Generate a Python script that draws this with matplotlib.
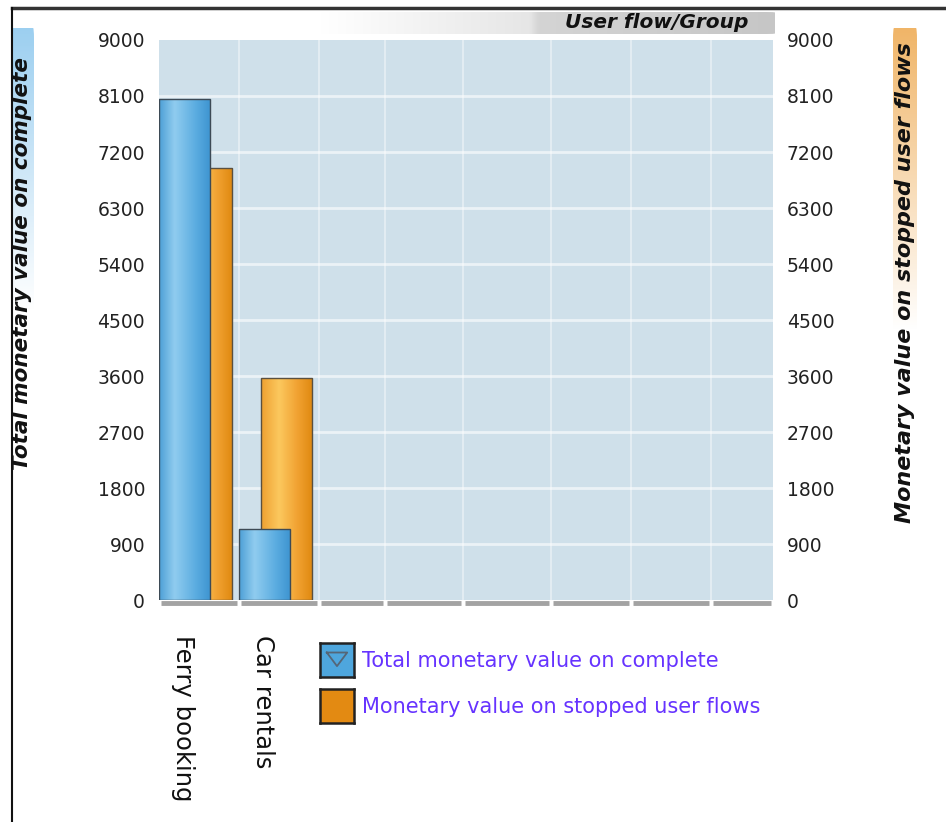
import numpy as np
import matplotlib
matplotlib.use("Agg")
import matplotlib.pyplot as plt
from matplotlib.colors import LinearSegmentedColormap
from matplotlib.patches import FancyBboxPatch
from matplotlib.lines import Line2D

categories = ["Ferry booking", "Car rentals"]
complete_values = [8050, 1140]
stopped_values = [6940, 3570]
y_ticks = [0, 900, 1800, 2700, 3600, 4500, 5400, 6300, 7200, 8100, 9000]
title = "User flow/Group"
left_label = "Total monetary value on complete"
right_label = "Monetary value on stopped user flows"
legend_labels = ["Total monetary value on complete", "Monetary value on stopped user flows"]

W, H = 946, 822
fig = plt.figure(figsize=(W / 100, H / 100), dpi=100)
fig.patch.set_facecolor("white")

def fx(px):
    return px / W

def fy(py):
    return 1 - py / H

def pill(box, color, rounding):
    # vertical gradient strip with rounded ends
    pax = fig.add_axes(box)
    pax.set_axis_off()
    cm = LinearSegmentedColormap.from_list("p", [(0, "#ffffff"), (1, color)])
    im = pax.imshow(np.linspace(1, 0, 256).reshape(-1, 1), extent=[0, 1, 0, 1],
                    aspect="auto", cmap=cm)
    pp = FancyBboxPatch((0, 0), 1, 1, boxstyle="round,pad=0,rounding_size=%g" % rounding,
                        transform=pax.transData, facecolor="none", edgecolor="none")
    pax.add_patch(pp)
    im.set_clip_path(pp)
    pax.set_xlim(0, 1)
    pax.set_ylim(0, 1)

# main axes: pixel box 159..773 x 40..600
ax = fig.add_axes([fx(159), fy(600), fx(614), (600 - 40) / H])
ax.set_facecolor("#cfe0ea")
xmax = 614 / 80
ax.set_xlim(0, xmax)
ax.set_ylim(0, 9000)
for s in ax.spines.values():
    s.set_visible(False)

# grid
for t in y_ticks[1:-1]:
    ax.axhline(t, color="white", lw=2, alpha=0.6, zorder=1)
grid_x = [1, 2, 2.825, 3.8, 4.9, 5.9, 6.9]
for g in grid_x:
    ax.axvline(g, color="white", lw=1.5, alpha=0.4, zorder=1)

# baseline segments
seg_edges = [0, 1, 2, 2.825, 3.8, 4.9, 5.9, 6.9, xmax]
for a, b in zip(seg_edges[:-1], seg_edges[1:]):
    ax.plot([a + 0.02, b - 0.03], [-55, -55], color="#a3a3a3", lw=3.5,
            solid_capstyle="butt", clip_on=False, zorder=1)

blue_cmap = LinearSegmentedColormap.from_list(
    "b", [(0, "#4c9fd6"), (0.3, "#90ccef"), (0.7, "#5cade1"), (1, "#3d93d0")])
orange_cmap = LinearSegmentedColormap.from_list(
    "o", [(0, "#eea031"), (0.35, "#fcc85e"), (0.7, "#f1a232"), (1, "#df880f")])

x = np.arange(len(categories))
bw = 0.64
bars_o = ax.bar(x + 0.27, stopped_values, width=bw, align="edge",
                facecolor="none", edgecolor="#5a5040", lw=1, zorder=3)
bars_b = ax.bar(x, complete_values, width=bw, align="edge",
                facecolor="none", edgecolor="#3d4a55", lw=1, zorder=5)

grad = np.linspace(0, 1, 256).reshape(1, -1)
for bars, cmap, z in [(bars_o, orange_cmap, 2), (bars_b, blue_cmap, 4)]:
    for p in bars:
        x0, y0 = p.get_x(), p.get_y()
        im = ax.imshow(grad, extent=[x0, x0 + p.get_width(), y0, y0 + p.get_height()],
                       aspect="auto", cmap=cmap, zorder=z, interpolation="bicubic")
        im.set_clip_path(p)
ax.set_xlim(0, xmax)
ax.set_ylim(0, 9000)

ax.set_xticks([])
ax.set_yticks(y_ticks)
ax.tick_params(axis="y", length=0, labelsize=13.5, labelcolor="#222222", pad=10,
               labelright=True, labelleft=True)

# category labels rotated
for i, c in enumerate(categories):
    ax.text(i + 0.3, -560, c, rotation=-90, ha="center", va="top",
            fontsize=17.5, color="#111111", clip_on=False)

# title banner
bax = fig.add_axes([fx(320), fy(34), fx(455), 22 / H])
bax.set_axis_off()
banner_cmap = LinearSegmentedColormap.from_list(
    "g", [(0, "#ffffff"), (0.46, "#e6e6e6"), (0.48, "#d4d4d4"), (1, "#c6c6c6")])
bim = bax.imshow(grad, extent=[0, 1, 0, 1], aspect="auto", cmap=banner_cmap)
bpatch = FancyBboxPatch((0, 0), 1, 1, boxstyle="round,pad=0,rounding_size=0.02",
                        transform=bax.transData, facecolor="none", edgecolor="none")
bax.add_patch(bpatch)
bim.set_clip_path(bpatch)
bax.set_xlim(0, 1)
bax.set_ylim(0, 1)
fig.text(fx(748), fy(22), title, ha="right", va="center", fontsize=14.5,
         fontweight="bold", fontstyle="italic", color="#111111")

# y label pills
pill([fx(12), fy(310), fx(22), 282 / H], "#9ccff0", 0.04)
pill([fx(893), fy(330), fx(24), 302 / H], "#f0b568", 0.04)

fig.text(fx(22), fy(470), left_label, rotation=90, ha="center", va="bottom",
         fontsize=15.5, fontweight="bold", fontstyle="italic", color="#111111")
fig.text(fx(905), fy(523), right_label, rotation=90, ha="center", va="bottom",
         fontsize=16, fontweight="bold", fontstyle="italic", color="#111111")

# legend
legend_colors = ["#4ea6dd", "#e38a12"]
for k, (lab, col) in enumerate(zip(legend_labels, legend_colors)):
    top = 643 + k * 46
    kax = fig.add_axes([fx(320), fy(top + 34), fx(34), 34 / H])
    kax.set_facecolor(col)
    kax.set_xticks([])
    kax.set_yticks([])
    for s in kax.spines.values():
        s.set_linewidth(1.8)
        s.set_color("#222222")
    if k == 0:
        kax.plot([0.2, 0.8, 0.5, 0.2], [0.72, 0.72, 0.32, 0.72], color="#556677", lw=1.3)
        kax.set_xlim(0, 1)
        kax.set_ylim(0, 1)
    fig.text(fx(362), fy(top + 18), lab, ha="left", va="center",
             fontsize=15, color="#6633ff")

# outer frame lines
fig.add_artist(Line2D([fx(12), 1], [fy(8), fy(8)], color="#333333", lw=2.5))
fig.add_artist(Line2D([fx(12), fx(12)], [fy(8), 0], color="#111111", lw=1.5))

fig.savefig("out.png", dpi=100)
